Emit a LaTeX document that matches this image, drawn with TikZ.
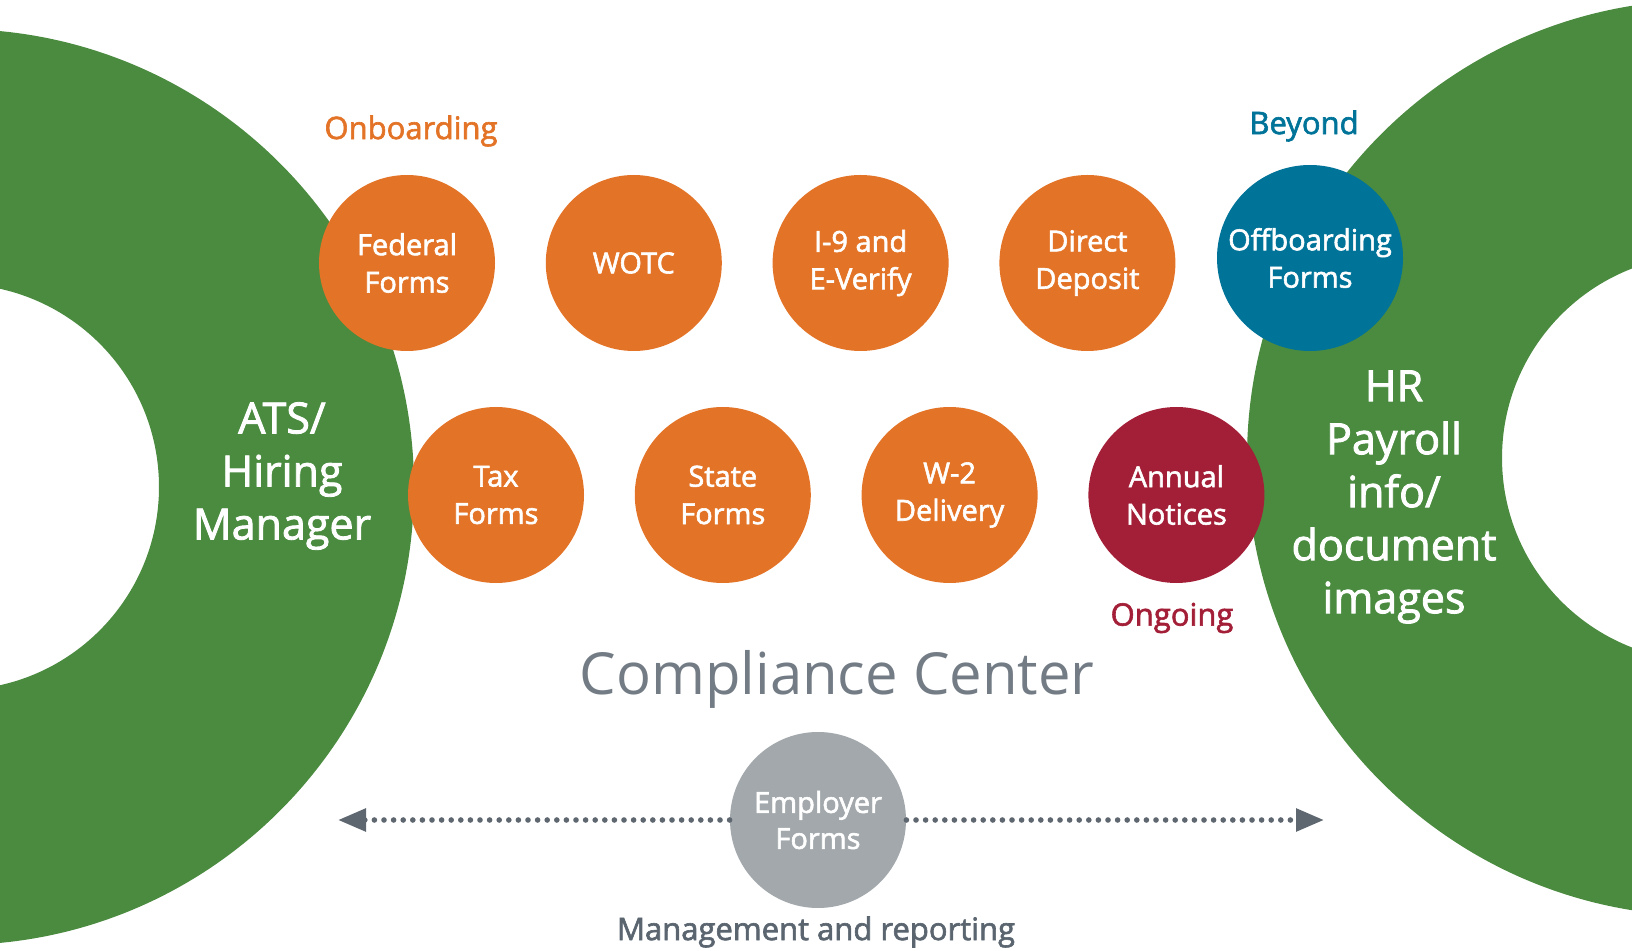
\documentclass[tikz,border=0pt]{standalone}
\usepackage{fontspec}
\setmainfont{Open Sans}
\newfontfamily\semibold{Open Sans}[FakeBold=2]
\usetikzlibrary{arrows.meta,positioning}
\definecolor{ringgreen}{RGB}{74,139,63}
\definecolor{formorange}{RGB}{227,115,38}
\definecolor{beyondblue}{RGB}{0,115,153}
\definecolor{ongoingred}{RGB}{163,31,55}
\definecolor{employergray}{RGB}{162,168,171}
\definecolor{textgray}{RGB}{90,101,112}
\definecolor{arrowgray}{RGB}{94,102,112}

\begin{document}
\begin{tikzpicture}[
    x=0.5pt, y=-0.5pt,
    node distance=25pt,
    form/.style={circle, fill=formorange, text=white, minimum size=88pt, inner sep=0pt, align=center, font=\semibold\fontsize{14.5}{18.7}\selectfont},
    ringtext/.style={text=white, align=center, font=\semibold\fontsize{21.5}{26.5}\selectfont},
    phase/.style={font=\semibold\fontsize{15.5}{18}\selectfont},
    dotline/.style={draw=arrowgray, line width=2.8pt, line cap=round, dash pattern=on 0pt off 4.8pt, -{Triangle[length=14pt, width=11pt]}}
]
    \clip (0,0) rectangle (1632,951);
    \useasboundingbox (0,0) rectangle (1632,951);

    % the two rings
    \fill[ringgreen, even odd rule] (-44,487) circle[radius=229pt] (-44,487) circle[radius=101.5pt];
    \fill[ringgreen, even odd rule] (1705,458) circle[radius=229pt] (1705,458) circle[radius=101.5pt];
    \node[ringtext] (ats) at (282,476) {ATS/\\Hiring\\Manager};
    \node[ringtext] (hr) at (1394,497) {HR\\Payroll\\info/\\document\\images};

    % onboarding row
    \node[form] (fed) at (407,263) {Federal\\Forms};
    \node[form, right=of fed] (wotc) {WOTC};
    \node[form, right=of wotc] (i9) {I-9 and\\E-Verify};
    \node[form, right=of i9] (deposit) {Direct\\Deposit};
    \node[form, fill=beyondblue, minimum size=93pt] (offboard) at (1310,258) {Offboarding\\Forms};

    % second row
    \node[form] (tax) at (496,495) {Tax\\Forms};
    \node[form, right=of tax] (state) {State\\Forms};
    \node[form, right=of state] (w2) {W-2\\Delivery};
    \node[form, fill=ongoingred, right=of w2] (annual) {Annual\\Notices};

    % phase labels
    \node[phase, text=formorange] (onb) at (411,131) {Onboarding};
    \node[phase, text=beyondblue] (bey) at (1304,126) {Beyond};
    \node[phase, text=ongoingred] (ong) at (1172,618) {Ongoing};

    \node[text=textgray!85, font=\fontsize{29}{34}\selectfont] (cc) at (837,679) {Compliance Center};

    % employer forms and reporting
    \node[form, fill=employergray, font=\semibold\fontsize{14.5}{18}\selectfont] (emp) at (818,820) {Employer\\Forms};
    \node[text=textgray, font=\semibold\fontsize{15.5}{18}\selectfont] (mgmt) at (816,932) {Management and reporting};
    \coordinate (lefttip) at (338,820);
    \coordinate (righttip) at (1324,820);
    \draw[dotline] (emp.west) -- (lefttip);
    \draw[dotline] (emp.east) -- (righttip);
\end{tikzpicture}
\end{document}
